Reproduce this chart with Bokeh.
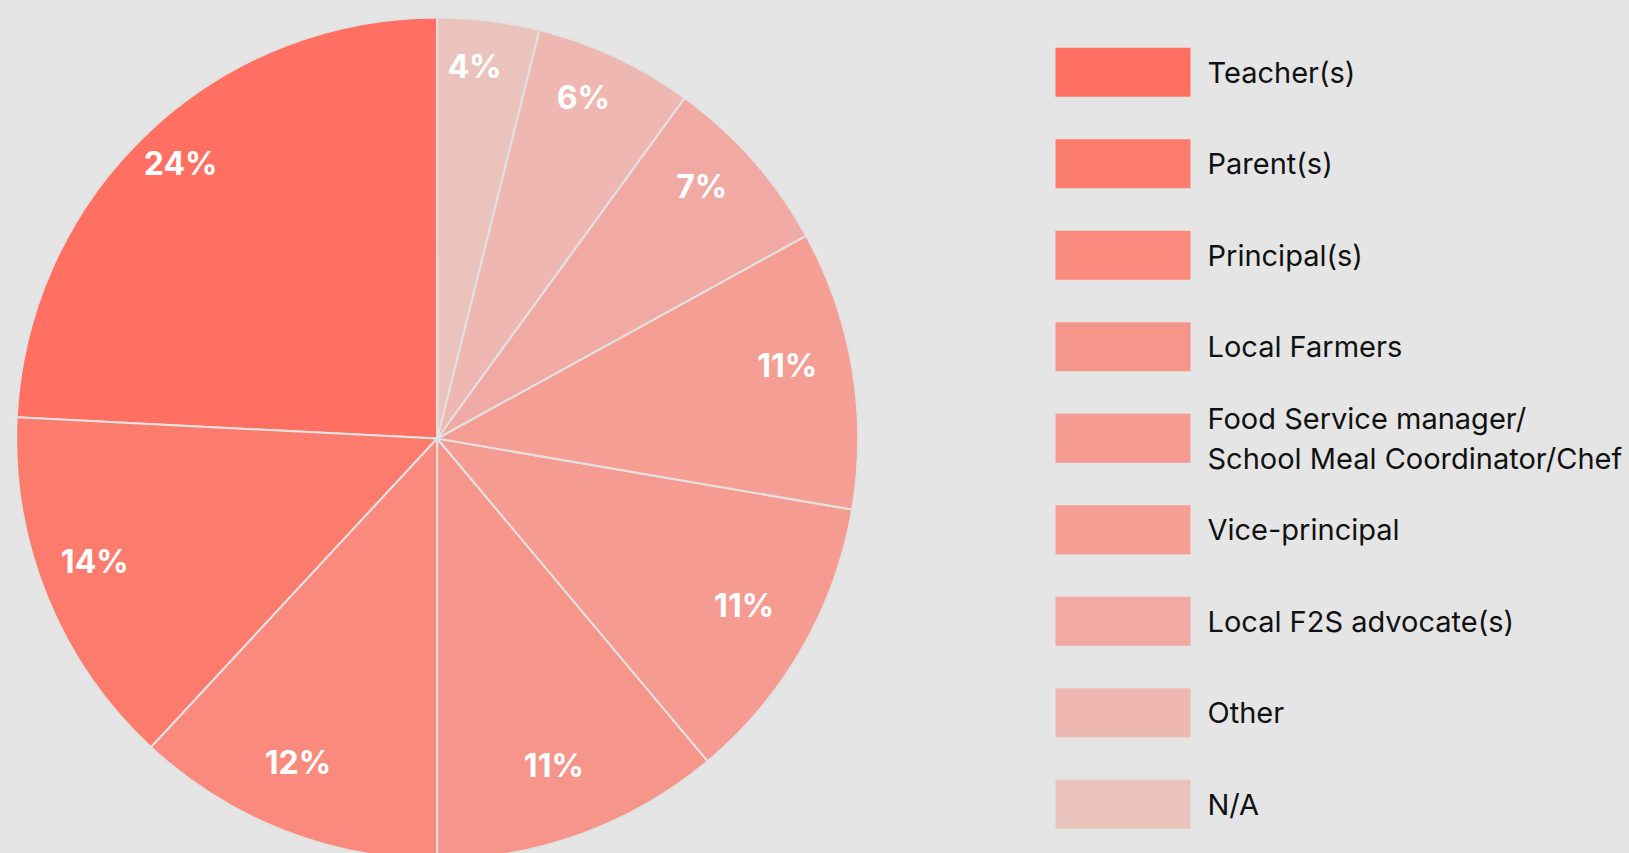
import math
from bokeh.plotting import figure
from bokeh.models import ColumnDataSource, GlobalInlineStyleSheet
from bokeh.core.properties import value
from bokeh.embed import file_html
from bokeh.resources import INLINE

# ---- data ----
categories = ["Teacher(s)", "Parent(s)", "Principal(s)", "Local Farmers",
              "Food Service manager/\nSchool Meal Coordinator/Chef",
              "Vice-principal", "Local F2S advocate(s)", "Other", "N/A"]
shares = [24.2, 13.9, 11.9, 11.1, 11.2, 10.7, 7.0, 6.1, 3.9]
pct_labels = ["24%", "14%", "12%", "11%", "11%", "11%", "7%", "6%", "4%"]
colors = ["#ff7062", "#fb7b6d", "#f98a7d", "#f6968b", "#f59b91",
          "#f59e94", "#f0aaa3", "#eeb7b1", "#ebc3bd"]

BG = "#e5e5e5"
W, H = 1629, 853
cx, cy, R = 436.7, H - 438.0, 421.0

total = sum(shares)
starts, ends, lx, ly = [], [], [], []
a = math.pi / 2
for s in shares:
    span = 2 * math.pi * s / total
    starts.append(a)
    ends.append(a + span)
    mid = a + span / 2
    lx.append(cx + 0.86 * R * math.cos(mid))
    ly.append(cy + 0.86 * R * math.sin(mid))
    a += span

src = ColumnDataSource(dict(start=starts, end=ends, color=colors,
                            lx=lx, ly=ly, lab=pct_labels))

p = figure(width=W, height=H, x_range=(0, W), y_range=(0, H),
           output_backend="svg", toolbar_location=None, min_border=0,
           background_fill_color=BG, border_fill_color=BG)
p.axis.visible = False
p.grid.visible = False
p.outline_line_color = None
p.stylesheets = [GlobalInlineStyleSheet(css=f"body {{ background: {BG}; }}")]

p.wedge(x=cx, y=cy, radius=R, start_angle="start", end_angle="end",
        direction="anticlock", fill_color="color", line_color="#e2e2e2",
        line_width=2, source=src)

p.text(x="lx", y="ly", text="lab", source=src, text_color="white",
       text_font=value("Inter"), text_font_size="32px", text_font_style="bold",
       text_align="center", text_baseline="middle", x_offset=-7, y_offset=-13)

# ---- legend ----
n = len(categories)
row_y = [H - (71.7 + 91.5 * i) for i in range(n)]
leg = ColumnDataSource(dict(y=row_y, color=colors, txt=categories,
                            x=[1122.5] * n, tx=[1207] * n))
p.rect(x="x", y="y", width=135, height=49, fill_color="color",
       line_color=None, source=leg)
p.text(x="tx", y="y", text="txt", source=leg, text_color="#111111",
       text_font=value("Inter"), text_font_size="29px",
       text_align="left", text_baseline="middle", text_line_height=1.15)

open("out.html", "w").write(file_html(p, INLINE))
